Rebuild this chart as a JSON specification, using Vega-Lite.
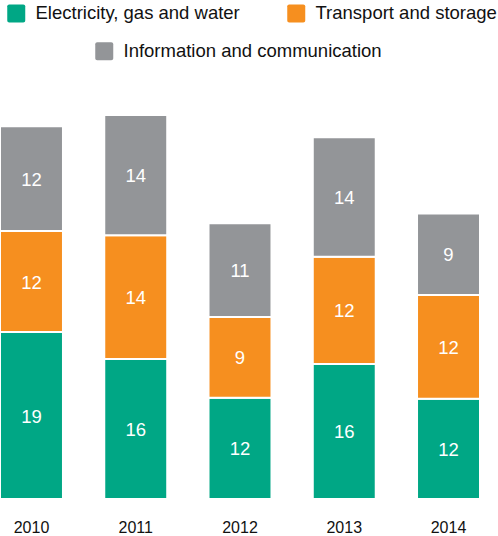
{
  "$schema": "https://vega.github.io/schema/vega-lite/v6.json",
  "autosize": "none",
  "width": 480,
  "height": 433,
  "padding": {"left": 0, "top": 66, "right": 18, "bottom": 37},
  "background": "white",
  "config": {"view": {"stroke": null}, "font": "Liberation Sans"},
  "data": {"values": [
    {"year": "2010", "sector": "Electricity, gas and water", "k": 1, "value": 19.28},
    {"year": "2010", "sector": "Transport and storage", "k": 2, "value": 11.66},
    {"year": "2010", "sector": "Information and communication", "k": 3, "value": 12.11},
    {"year": "2011", "sector": "Electricity, gas and water", "k": 1, "value": 16.17},
    {"year": "2011", "sector": "Transport and storage", "k": 2, "value": 14.28},
    {"year": "2011", "sector": "Information and communication", "k": 3, "value": 13.89},
    {"year": "2012", "sector": "Electricity, gas and water", "k": 1, "value": 11.70},
    {"year": "2012", "sector": "Transport and storage", "k": 2, "value": 9.32},
    {"year": "2012", "sector": "Information and communication", "k": 3, "value": 10.82},
    {"year": "2013", "sector": "Electricity, gas and water", "k": 1, "value": 15.59},
    {"year": "2013", "sector": "Transport and storage", "k": 2, "value": 12.39},
    {"year": "2013", "sector": "Information and communication", "k": 3, "value": 13.79},
    {"year": "2014", "sector": "Electricity, gas and water", "k": 1, "value": 11.58},
    {"year": "2014", "sector": "Transport and storage", "k": 2, "value": 11.97},
    {"year": "2014", "sector": "Information and communication", "k": 3, "value": 9.43}
  ]},
  "encoding": {
    "x": {"field": "year", "type": "ordinal",
      "scale": {"paddingInner": 0.396, "paddingOuter": 0},
      "axis": {"title": null, "domain": false, "ticks": false, "labelAngle": 0,
        "labelFont": "Liberation Sans", "labelFontSize": 16, "labelColor": "#111111",
        "labelBaseline": "alphabetic", "labelPadding": 33}},
    "y": {"field": "value", "type": "quantitative", "stack": "zero",
      "scale": {"domain": [0, 50]}, "axis": null},
    "order": {"field": "k", "type": "quantitative", "sort": "ascending"}
  },
  "layer": [
    {
      "mark": {"type": "bar", "stroke": "white", "strokeWidth": 2},
      "encoding": {
        "fill": {"field": "sector", "type": "nominal",
          "scale": {"domain": ["Information and communication"], "range": ["#939598"]},
          "legend": {"title": null, "orient": "none", "direction": "horizontal",
            "legendX": 95, "legendY": -24, "padding": 0,
            "symbolType": "M-0.78,-1H0.78A0.22,0.22 0 0 1 1,-0.78V0.78A0.22,0.22 0 0 1 0.78,1H-0.78A0.22,0.22 0 0 1 -1,0.78V-0.78A0.22,0.22 0 0 1 -0.78,-1Z",
            "symbolSize": 324, "symbolStrokeWidth": 0, "symbolOpacity": 1,
            "labelFont": "Liberation Sans", "labelFontSize": 18.5, "labelColor": "#111111",
            "labelOffset": 10, "labelLimit": 400}
        }
      }
    },
    {
      "mark": {"type": "bar", "stroke": "white", "strokeWidth": 2},
      "encoding": {
        "color": {"field": "sector", "type": "nominal",
          "scale": {"domain": ["Electricity, gas and water", "Transport and storage", "Information and communication"],
                    "range": ["#00A785", "#F68F1F", "#939598"]},
          "legend": {"title": null, "orient": "none", "direction": "horizontal",
            "legendX": 7, "legendY": -62, "padding": 0,
            "values": ["Electricity, gas and water", "Transport and storage"],
            "symbolType": "M-0.78,-1H0.78A0.22,0.22 0 0 1 1,-0.78V0.78A0.22,0.22 0 0 1 0.78,1H-0.78A0.22,0.22 0 0 1 -1,0.78V-0.78A0.22,0.22 0 0 1 -0.78,-1Z",
            "symbolSize": 324, "symbolStrokeWidth": 0, "symbolOpacity": 1,
            "labelFont": "Liberation Sans", "labelFontSize": 18.5, "labelColor": "#111111",
            "labelOffset": 10, "columnPadding": 47, "labelLimit": 400}
        }
      }
    },
    {
      "mark": {"type": "text", "color": "white", "font": "Liberation Sans", "fontSize": 18.5, "baseline": "middle", "dy": 1},
      "encoding": {
        "y": {"field": "value", "type": "quantitative", "stack": "zero", "bandPosition": 0.5},
        "text": {"field": "value", "type": "quantitative", "format": ".0f"}
      }
    }
  ]
}
